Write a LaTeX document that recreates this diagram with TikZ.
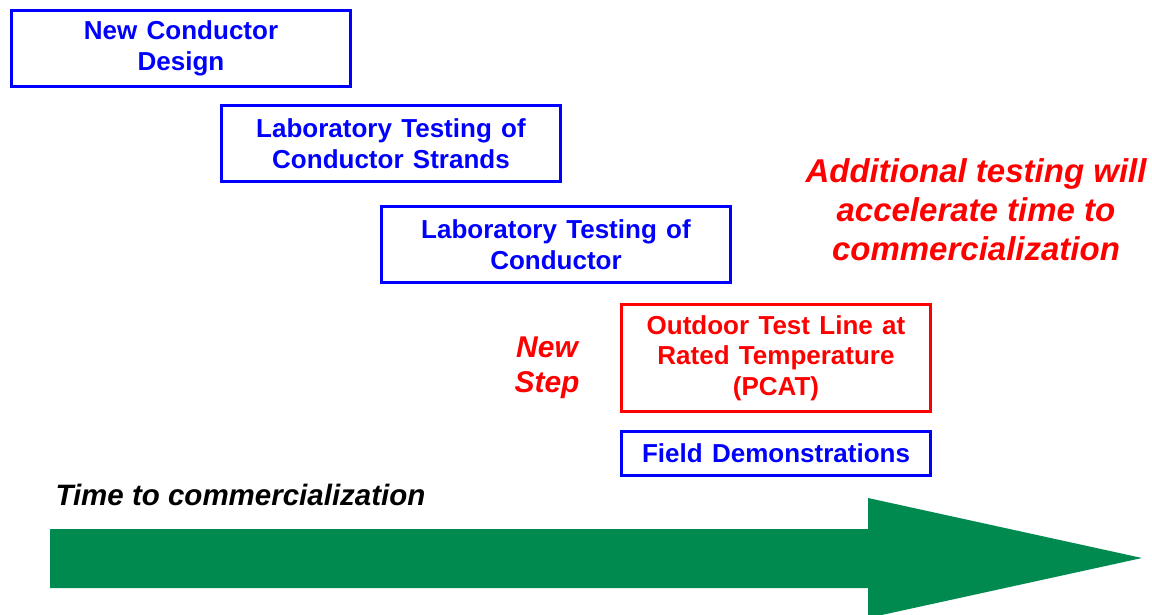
\documentclass[tikz,border=0pt]{standalone}
\usepackage{fontspec}
\setmainfont{Liberation Sans}
\definecolor{stepblue}{RGB}{0,0,255}
\definecolor{stepred}{RGB}{255,0,0}
\definecolor{arrowgreen}{RGB}{0,138,80}
\newcommand{\widespaces}{\spaceskip=0.36em plus 0.1em\relax}
\begin{document}
\begin{tikzpicture}[x=1pt,y=-1pt,
  stagebox/.style={draw=stepblue, line width=3pt, text=stepblue, align=center,
    font=\fontsize{26}{30.5}\selectfont\bfseries\widespaces,
    inner sep=0pt, anchor=center},
  newbox/.style={stagebox, draw=stepred, text=stepred},
  note/.style={text=stepred, align=center, font=\fontsize{33}{39}\selectfont\bfseries\itshape}]
\useasboundingbox (0,0) rectangle (1152,614);
\clip (0,0) rectangle (1152,614);

% development stages
\node[stagebox, minimum width=339pt, minimum height=76pt] (design) at (181,48.5)
  {New Conductor\\Design};
\node[stagebox, minimum width=339pt, minimum height=76pt] (strands) at (391,143.5)
  {Laboratory Testing of\\Conductor Strands};
\node[stagebox, minimum width=349pt, minimum height=76pt] (conductor) at (556,244.5)
  {Laboratory Testing of\\Conductor};
\node[newbox, minimum width=309pt, minimum height=107pt] (pcat) at (776,358)
  {Outdoor Test Line at\\Rated Temperature\\(PCAT)};
\node[stagebox, minimum width=309pt, minimum height=44pt] (field) at (776,453.5)
  {Field Demonstrations};

% annotations
\node[note, font=\fontsize{30}{35}\selectfont\bfseries\itshape] (newstep) at (547,368) {New\\Step};
\node[note] (accel) at (976,210)
  {Additional testing will\\accelerate time to\\commercialization};
\node[anchor=west, font=\fontsize{29.5}{30}\selectfont\bfseries\itshape] (timelabel) at (52,495)
  {Time to commercialization};

% time arrow
\fill[arrowgreen] (50,529) -- (868,529) -- (868,498) -- (1142,558) -- (868,618)
  -- (868,588) -- (50,588) -- cycle;
\end{tikzpicture}
\end{document}
